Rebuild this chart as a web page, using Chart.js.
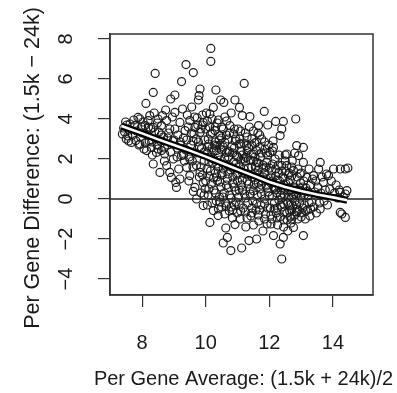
<!DOCTYPE html>
<html lang="en">
<head>
  <meta charset="UTF-8">
  <title>Per Gene Difference vs Average</title>
  <script src="https://cdn.jsdelivr.net/npm/chart.js@4.4.1/dist/chart.umd.min.js"></script>
  <style>
    body { margin: 0; background: #fff; }
  </style>
</head>
<body>
<canvas id="chart" width="397" height="393"></canvas>
<script>
  // axis setup
  const xLimits = [6.99, 15.26];
  const yLimits = [-4.8, 8.25];
  const xTicks = [8, 10, 12, 14];
  const yTicks = [-4, -2, 0, 2, 4, 6, 8];
  const xTitle = 'Per Gene Average: (1.5k + 24k)/2';
  const yTitle = 'Per Gene Difference: (1.5k \u2212 24k)';

  // genes, [average, difference]
  const leftGenes = [
    [7.38,3.25],[7.42,3.55],[7.45,3.35],[7.5,3.0],[7.52,3.7],[7.55,3.15],[7.58,2.9],[7.6,3.45],[7.48,3.85],
    [7.62,3.75],[7.66,2.83],[7.7,3.2],[7.74,3.95],[7.77,3.67],[7.8,2.92],[7.83,3.4],[7.87,4.08],[7.9,2.7],
    [7.93,4.0],[7.95,3.1],[7.98,3.6],[7.93,2.75],
    [8.03,3.85],[8.06,2.5],[8.09,3.67],[8.12,4.78],[8.14,2.42],[8.17,3.2],[8.19,3.92],[8.22,2.9],[8.24,4.17],
    [8.27,3.5],[8.29,2.58],[8.32,2.2],[8.35,3.58],[8.35,1.75],[8.35,5.33],[8.38,4.3],[8.41,6.28],[8.43,3.0],
    [8.45,2.33],[8.48,3.8],[8.5,4.0],[8.47,2.7],
    [8.53,3.35],[8.56,1.33],[8.58,2.9],[8.61,3.67],[8.61,2.42],[8.64,4.17],[8.67,3.1],[8.7,1.9],[8.71,2.25],
    [8.74,4.45],[8.77,3.92],[8.77,1.67],[8.8,2.7],[8.83,3.3],[8.87,3.5],[8.87,1.33],[8.9,5.0],[8.92,1.08],
    [8.95,4.1],[8.98,2.0],[8.98,2.9],
    [9.03,5.2],[9.03,3.5],[9.03,4.33],[9.06,0.83],[9.08,0.58],[9.1,2.55],[9.12,3.2],[9.15,1.5],[9.19,3.83],
    [9.19,1.0],[9.22,2.7],[9.24,5.87],[9.24,2.17],[9.27,4.5],[9.3,3.05],[9.33,1.9],[9.35,3.42],[9.38,6.72],
    [9.38,2.45],[9.4,1.58],[9.42,4.2],[9.45,3.6],[9.48,2.1],[9.5,3.92],[9.5,1.17],[9.47,0.9],
    [9.53,2.7],[9.56,4.6],[9.58,1.9],[9.61,6.32],[9.61,0.38],[9.63,3.25],[9.66,3.58],[9.66,0.58],[9.68,2.3],
    [9.71,1.67],[9.71,0.0],[9.73,4.05],[9.77,4.95],[9.77,2.85],[9.79,5.17],[9.8,1.1],[9.82,5.5],[9.82,3.33],
    [9.82,1.33],[9.85,0.3],[9.87,2.55],[9.9,3.7],[9.92,3.83],[9.92,0.83],[9.92,-0.33],[9.95,1.9],[9.97,2.95],
    [9.98,0.5],
    [8.0,3.3],[8.2,3.6],[8.4,3.35],[8.6,3.2],[8.8,3.05],[9.0,2.95],[9.2,2.85],[9.4,2.95],[8.1,2.8],
    [8.3,2.85],[8.5,2.5],[8.7,2.55],[8.9,2.35],[9.1,2.1],[9.3,2.2],[9.5,2.0],[9.6,1.6]
  ];

  const middleGenes = [
    [10.02,4.3],[10.04,1.5],[10.06,2.6],[10.08,3.0],[10.08,0.2],[10.1,1.15],[10.12,3.6],[10.13,4.25],[10.13,-1.17],
    [10.15,2.1],[10.16,7.53],[10.16,6.88],[10.18,0.75],[10.2,3.3],[10.22,1.8],[10.24,4.58],[10.24,2.0],[10.24,-0.58],
    [10.26,0.45],[10.28,2.7],[10.29,3.42],[10.3,1.3],[10.32,5.45],[10.33,-0.1],[10.34,2.42],[10.36,3.8],[10.37,0.9],
    [10.39,-0.83],[10.4,1.6],[10.42,2.95],[10.43,0.1],[10.45,3.17],[10.45,1.95],[10.47,4.95],[10.48,0.6],[10.5,-0.4],
    [10.5,2.45],
    [10.52,1.2],[10.55,-2.2],[10.55,3.5],[10.57,4.83],[10.58,0.3],[10.6,2.83],[10.6,1.7],[10.63,-1.45],[10.63,-0.2],
    [10.65,2.33],[10.66,3.9],[10.68,-1.92],[10.68,1.0],[10.7,0.55],[10.72,2.1],[10.74,-0.6],[10.76,3.67],[10.78,1.45],
    [10.79,-2.58],[10.8,0.05],[10.82,2.6],[10.84,-0.95],[10.85,0.8],[10.87,3.25],[10.88,1.85],[10.9,-0.3],[10.92,4.95],
    [10.92,-1.28],[10.93,2.9],[10.95,0.4],[10.97,2.17],[10.98,1.2],[10.99,-0.7],
    [11.02,3.5],[11.03,0.1],[11.05,1.65],[11.06,4.58],[11.07,3.0],[11.08,-1.0],[11.1,2.4],[11.12,0.7],[11.13,-2.45],
    [11.15,4.17],[11.16,1.3],[11.18,-0.45],[11.2,2.0],[11.21,5.78],[11.22,0.25],[11.25,3.3],[11.26,-1.4],[11.28,2.67],
    [11.28,2.08],[11.3,0.9],[11.32,-0.2],[11.34,1.55],[11.36,-2.08],[11.37,3.6],[11.39,4.12],[11.4,0.5],[11.42,-0.85],
    [11.44,2.25],[11.45,3.0],[11.46,1.1],[11.48,-0.1],[11.5,2.25],[11.5,-1.3],
    [11.52,0.7],[11.54,2.8],[11.56,1.6],[11.58,-0.55],[11.6,2.42],[11.6,1.83],[11.6,-2.0],[11.62,0.2],[11.64,3.3],
    [11.66,3.67],[11.67,-1.1],[11.68,1.2],[11.7,0.5],[11.72,2.1],[11.74,-0.3],[11.76,3.0],[11.78,0.9],[11.8,-1.6],
    [11.82,1.55],[11.84,4.38],[11.85,0.0],[11.86,2.5],[11.88,-0.75],[11.9,1.0],[11.92,1.83],[11.93,-1.25],[11.95,3.7],
    [11.96,0.35],[11.98,2.7]
  ];

  const rightGenes = [
    [12.02,2.33],[12.03,-0.45],[12.05,0.8],[12.07,1.4],[12.08,-1.0],[12.1,0.15],[12.12,2.9],[12.13,2.58],[12.13,-1.83],
    [12.15,0.55],[12.16,-0.2],[12.18,2.0],[12.2,3.88],[12.2,1.15],[12.22,-0.7],[12.24,0.3],[12.26,-1.3],[12.28,1.7],
    [12.3,-0.05],[12.32,0.9],[12.34,3.17],[12.34,-2.25],[12.35,-0.9],[12.37,0.45],[12.39,3.5],[12.39,1.67],[12.39,-3.0],
    [12.4,-0.4],[12.42,1.1],[12.44,3.88],[12.44,-1.92],[12.45,-1.4],[12.47,0.2],[12.48,-0.65],[12.5,2.2],
    [12.52,0.75],[12.55,2.25],[12.55,1.67],[12.56,-1.05],[12.58,-0.2],[12.6,0.4],[12.62,1.3],[12.64,-0.6],[12.66,0.95],
    [12.68,-1.2],[12.7,0.1],[12.72,1.9],[12.74,-0.35],[12.76,1.42],[12.76,-1.42],[12.78,0.6],[12.8,-0.8],[12.83,4.0],
    [12.84,0.2],[12.86,2.67],[12.87,-0.5],[12.88,1.1],[12.9,-1.0],[12.92,2.17],[12.93,0.45],[12.95,-0.2],[12.97,1.25],
    [12.98,0.8],
    [13.02,-0.7],[13.04,0.3],[13.07,2.58],[13.07,1.83],[13.07,-1.83],[13.08,0.9],[13.1,-0.3],[13.13,-1.0],[13.15,0.55],
    [13.18,1.08],[13.2,-0.55],[13.22,0.15],[13.25,1.5],[13.28,-0.85],[13.3,0.7],[13.33,-0.15],[13.36,1.0],[13.39,1.17],
    [13.4,-0.4],[13.43,0.35],[13.46,0.9],[13.48,-0.7],
    [13.52,0.6],[13.55,1.5],[13.58,-0.2],[13.6,1.83],[13.6,-0.5],[13.62,0.3],[13.66,1.1],[13.7,0.83],[13.72,-0.1],
    [13.76,0.45],[13.8,1.25],[13.83,-0.3],[13.86,1.17],[13.9,0.5],[13.95,0.9],
    [14.02,1.5],[14.05,0.3],[14.1,0.7],[14.15,0.05],[14.2,0.45],[14.23,1.5],[14.23,0.33],[14.23,-0.67],[14.28,-0.75],
    [14.33,0.1],[14.39,1.5],[14.39,0.25],[14.39,-0.92],[14.44,0.42],[14.47,1.55]
  ];

  // the dense core around the trend
  const coreGenes = [
    [10.05,2.3],[10.1,1.85],[10.2,2.55],[10.35,1.1],[10.4,2.2],[10.55,1.5],[10.6,2.05],[10.7,1.25],[10.75,2.35],
    [10.85,1.55],[10.95,1.75],[11.0,0.9],[11.1,1.95],[11.15,0.45],[11.25,1.25],[11.35,0.75],[11.45,1.6],[11.55,0.95],
    [11.65,1.45],[11.75,0.7],[11.85,1.3],[11.95,0.55],[12.05,1.1],[12.15,0.6],[12.25,0.95],[12.35,0.2],[12.45,0.7],
    [12.6,0.85],[12.7,0.35],[12.8,-0.1],[12.9,0.3],[13.0,0.1],[10.3,2.85],[10.5,3.05],[10.7,3.0],[10.9,2.55],
    [11.1,2.75],[11.3,2.4],[11.5,1.9],[11.7,2.6],[11.9,2.3],[12.1,1.75],[12.3,1.3],[12.5,1.4],[12.7,1.15],
    [10.45,-0.15],[10.65,-0.35],[10.85,-0.55],[11.05,-0.3],[11.25,-0.65],[11.45,-0.45],[11.65,-0.8],[11.85,-0.25],
    [12.05,-0.8],[12.25,-0.45],[12.45,-1.05],[12.65,-0.9],[12.85,-0.65],[13.05,-0.45],[12.58,-1.6],[12.7,-0.55],
    [9.85,1.6],[9.9,1.2],[9.95,0.2],[10.0,0.9],[10.05,-0.3],[10.1,0.5],[10.15,1.4],[10.2,-0.2],[10.25,1.05],[10.3,0.3],
    [10.35,1.75],[10.4,-0.5],[10.45,0.85],[10.5,1.3],[10.55,0.1],[10.6,-0.75],[10.65,0.7],[10.7,1.7],[10.75,0.2],[10.8,-0.4],
    [10.85,1.1],[10.9,0.6],[10.95,-0.15],[11.0,1.3],[11.05,0.45],[11.1,-0.6],[11.15,0.95],[11.2,1.5],[11.25,0.05],[11.3,-0.95],
    [11.35,1.2],[11.4,0.25],[11.45,-0.7],[11.5,0.4],[11.55,1.3],[11.6,-0.25],[11.65,0.8],[11.7,-0.55],[11.75,0.25],[11.8,1.1],
    [11.85,-1.0],[11.9,0.65],[11.95,-0.45],[12.0,0.15],[12.05,-1.25],[12.1,0.9],[12.15,-0.5],[12.2,0.45],[12.25,-0.95],[12.3,0.65],
    [12.35,-0.3],[12.4,0.05],[12.45,-0.25],[12.5,0.5],[12.55,-0.7],[12.6,0.1],[12.65,-0.3],[12.7,-1.0],[12.75,0.2],[12.8,0.55],
    [12.85,-0.3],[12.9,-0.6],[12.95,0.55],[13.0,-0.9],[13.05,0.6],[13.1,0.2],[13.15,-0.6],[13.2,0.4],[13.25,-0.2],[13.3,-0.5],
    [9.55,3.3],[9.6,2.9],[9.65,4.1],[9.7,3.0],[9.75,3.7],[9.8,2.6],[9.85,3.5],[9.9,4.2],[9.95,2.35],[10.0,3.5],
    [10.05,3.9],[10.1,2.75],[10.15,3.25],[10.2,4.0],[10.25,2.4],[10.3,3.6],[10.35,2.65],[10.4,3.95],[10.45,2.7],[10.5,3.6],
    [10.55,2.6],[10.6,4.1],[10.65,3.2],[10.7,2.4],[10.75,3.3],[10.8,4.3],[10.85,2.3],[10.9,3.5],[10.95,3.0],[11.0,2.1],
    [11.05,2.75],[11.1,3.4],[11.15,2.2],[11.2,2.8],[11.25,1.9],[11.3,3.1],[11.35,2.55],[11.4,1.95],[11.45,2.7],[11.5,3.4],
    [11.55,2.1],[11.6,2.85],[11.65,1.8],[11.7,3.2],[11.75,2.3],[11.8,1.7],[11.85,2.85],[11.9,1.6],[11.95,2.2],[12.0,1.55],
    [12.1,2.4],[12.2,1.5],[12.3,2.2],[12.4,1.4],[12.5,1.9],[12.6,1.2],[12.7,1.6],[12.8,2.3],[12.9,1.5],[13.0,1.3]
  ];

  // lowess trend
  const trendX = [7.35, 8, 8.5, 9, 9.5, 10, 10.5, 11, 11.5, 12, 12.5, 13, 13.5, 14, 14.45];
  const trendY = [3.65, 3.28, 2.98, 2.7, 2.42, 2.12, 1.8, 1.48, 1.17, 0.85, 0.6, 0.4, 0.22, 0.08, -0.06];

  const font = "'Liberation Sans', Arial, sans-serif";
  const ink = '#1a1a1a';

  const toXY = (p) => ({ x: p[0], y: p[1] });
  const genes = [...leftGenes, ...middleGenes, ...rightGenes, ...coreGenes].map(toXY);
  const trend = trendX.map((x, i) => ({ x: x, y: trendY[i] }));
  const zeroLine = [{ x: xLimits[0], y: 0 }, { x: xLimits[1], y: 0 }];

  // box around the plot, rotated y tick labels and unsqueezed titles, like base R
  const rStyle = {
    id: 'rStyle',
    afterDatasetsDraw(chart) {
      const { ctx, chartArea } = chart;
      ctx.save();
      ctx.strokeStyle = '#333';
      ctx.lineWidth = 1.5;
      ctx.strokeRect(chartArea.left, chartArea.top, chartArea.right - chartArea.left, chartArea.bottom - chartArea.top);
      ctx.restore();
    },
    afterDraw(chart) {
      const { ctx, chartArea } = chart;
      const y = chart.scales.y;
      ctx.save();
      ctx.fillStyle = ink;
      ctx.font = '20px ' + font;
      ctx.textAlign = 'center';
      ctx.textBaseline = 'middle';
      yTicks.forEach(v => {
        ctx.save();
        ctx.translate(66, y.getPixelForValue(v));
        ctx.rotate(-Math.PI / 2);
        ctx.fillText(v < 0 ? '\u2212' + Math.abs(v) : String(v), 0, 0);
        ctx.restore();
      });
      ctx.fillText(xTitle, (chartArea.left + chartArea.right) / 2 + 2, 379);
      ctx.save();
      ctx.font = '21.5px ' + font;
      ctx.translate(33, 168);
      ctx.rotate(-Math.PI / 2);
      ctx.fillText(yTitle, 0, 0);
      ctx.restore();
      ctx.restore();
    }
  };

  new Chart(document.getElementById('chart'), {
    type: 'scatter',
    data: {
      datasets: [
        { data: trend, showLine: true, borderColor: '#fff', borderWidth: 2.6, pointRadius: 0, order: 0 },
        { data: trend, showLine: true, borderColor: '#000', borderWidth: 7, pointRadius: 0, order: 1 },
        { data: zeroLine, showLine: true, borderColor: '#222', borderWidth: 1.5, pointRadius: 0, order: 2 },
        {
          data: genes,
          pointRadius: 4,
          pointBorderWidth: 1.2,
          pointBorderColor: ink,
          pointBackgroundColor: 'rgba(0,0,0,0)',
          order: 3
        }
      ]
    },
    options: {
      responsive: false,
      animation: false,
      layout: { padding: { top: 34, right: 24, left: 0, bottom: 0 } },
      plugins: { legend: { display: false }, tooltip: { enabled: false } },
      scales: {
        x: {
          type: 'linear',
          min: xLimits[0],
          max: xLimits[1],
          afterBuildTicks: (scale) => { scale.ticks = xTicks.map(v => ({ value: v })); },
          afterFit: (scale) => { scale.height = 98; },
          grid: { drawOnChartArea: false, tickLength: 12, color: '#333', lineWidth: 1.2 },
          border: { display: true, color: '#333', width: 1.5 },
          ticks: { autoSkip: false, maxRotation: 0, padding: 24, color: ink, font: { family: font, size: 20 } },
          title: { display: false }
        },
        y: {
          type: 'linear',
          min: yLimits[0],
          max: yLimits[1],
          afterBuildTicks: (scale) => { scale.ticks = yTicks.map(v => ({ value: v })); },
          afterFit: (scale) => { scale.width = 110; },
          grid: { drawOnChartArea: false, tickLength: 12, color: '#333', lineWidth: 1.2 },
          border: { display: true, color: '#333', width: 1.5 },
          ticks: { display: false },
          title: { display: false }
        }
      }
    },
    plugins: [rStyle]
  });
</script>
</body>
</html>
